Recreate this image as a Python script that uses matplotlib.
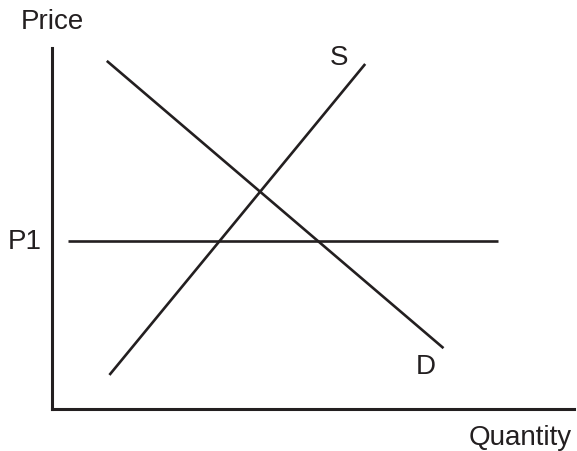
import matplotlib.pyplot as plt

plt.rcParams['font.family'] = ['Liberation Sans', 'DejaVu Sans']

# curve end points (quantity, price)
demand_q = [1.05, 7.5]
demand_p = [6.75, 1.18]
supply_q = [1.1, 6.0]
supply_p = [0.66, 6.69]
p1_q = [0.3, 8.55]
p1_price = 3.26

ink = '#231f20'

fig = plt.figure(figsize=(5.77, 4.52), dpi=100)
ax = fig.add_axes([52 / 577, 42 / 452, 522 / 577, 361 / 452])
ax.set_xlim(0, 10)
ax.set_ylim(0, 7)

ax.plot(demand_q, demand_p, color=ink, lw=1.9, solid_capstyle='butt')
ax.plot(supply_q, supply_p, color=ink, lw=1.9, solid_capstyle='butt')
ax.plot(p1_q, [p1_price, p1_price], color=ink, lw=1.9, solid_capstyle='butt')

# only left and bottom axis lines
for side in ['top', 'right']:
    ax.spines[side].set_visible(False)
for side in ['left', 'bottom']:
    ax.spines[side].set_linewidth(2.2)
    ax.spines[side].set_color(ink)
ax.set_xticks([])
ax.set_yticks([])

fs = 20
ax.text(0, 7.52, 'Price', ha='center', va='center', fontsize=fs, color=ink, clip_on=False)
ax.text(5.5, 6.83, 'S', ha='center', va='center', fontsize=fs, color=ink)
ax.text(7.16, 0.83, 'D', ha='center', va='center', fontsize=fs, color=ink)
ax.text(-0.52, p1_price, 'P1', ha='center', va='center', fontsize=fs, color=ink, clip_on=False)
ax.text(9.96, -0.54, 'Quantity', ha='right', va='center', fontsize=fs, color=ink, clip_on=False)

fig.savefig('out.png', dpi=100)
